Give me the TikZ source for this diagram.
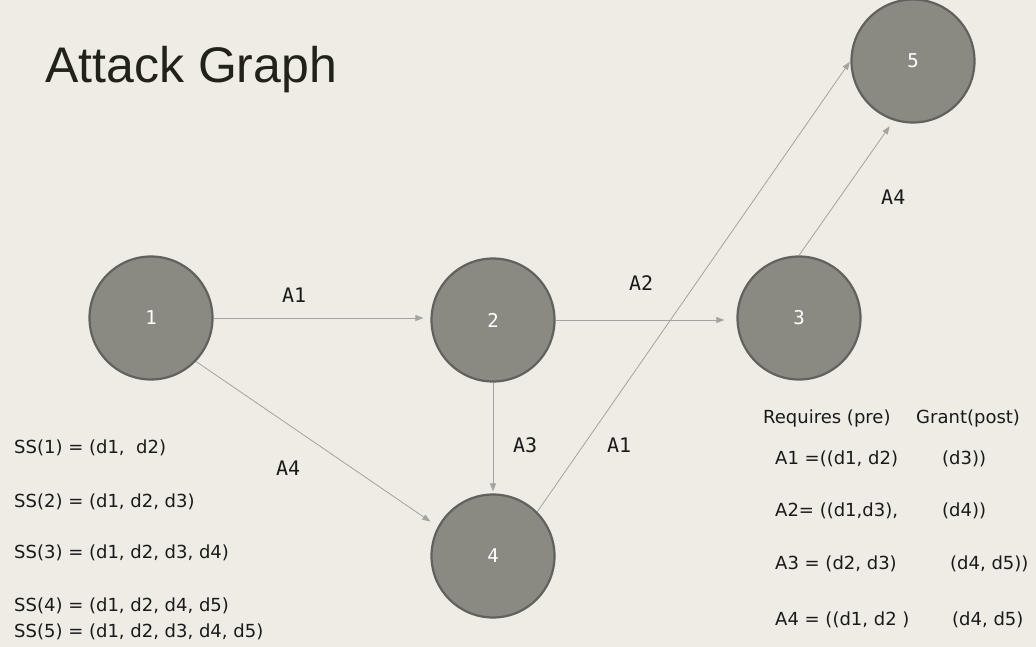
\documentclass[tikz,border=0pt]{standalone}
\usepackage{fontspec}
\setmainfont{DejaVu Sans}
\newfontfamily\titlefont{Liberation Sans}
\newfontfamily\monofont{DejaVu Sans Mono}
\usetikzlibrary{arrows.meta}
\definecolor{bgc}{HTML}{EEECE4}
\definecolor{circfill}{HTML}{8A8A83}
\definecolor{circline}{HTML}{62625C}
\definecolor{edgec}{HTML}{A4A49E}
\definecolor{txtc}{HTML}{1A1A1A}
\definecolor{titlec}{HTML}{22221A}
\tikzset{
  statenode/.style={circle, fill=circfill, draw=circline, line width=2.2pt,
    minimum size=123pt, inner sep=0pt, text=white,
    font=\monofont\fontsize{19pt}{19pt}\selectfont},
  edge/.style={draw=edgec, line width=0.8pt,
    -{Triangle[length=8pt,width=6pt]}},
  elabel/.style={anchor=base west, inner sep=0pt, text=txtc,
    font=\monofont\fontsize{20pt}{20pt}\selectfont},
  sstext/.style={anchor=base west, inner sep=0pt, text=txtc,
    font=\fontsize{18pt}{18pt}\selectfont},
}
\begin{document}
\begin{tikzpicture}[x=1pt,y=-1pt]
\fill[bgc] (0,0) rectangle (1036,647);
\useasboundingbox (0,0) rectangle (1036,647);

\node[anchor=base west, inner sep=0pt, text=titlec,
  font=\titlefont\fontsize{50pt}{50pt}\selectfont] (title) at (45,83) {Attack Graph};

\node[statenode] (n1) at (151,318) {1};
\node[statenode] (n2) at (493,320) {2};
\node[statenode] (n3) at (799,318) {3};
\node[statenode] (n4) at (493,556) {4};
\node[statenode] (n5) at (913,61) {5};

\draw[edge, shorten >=7pt] (n1.east) -- (n1.east -| n2.west);
\draw[edge, shorten >=12pt] (n2.east) -- (n2.east -| n3.west);
\draw[edge, shorten >=2pt] (n2.south) -- (n4.north);
\draw[edge, shorten >=9pt] (n1.-44) -- (n4.152);
\draw[edge, shorten >=1pt] (n4.45) -- (n5.west);
\draw[edge, shorten >=7pt] (n3.north) -- (n5.252);

\node[elabel] (l12) at (282,302) {A1};
\node[elabel] (l23) at (629,290) {A2};
\node[elabel] (l24) at (513,452) {A3};
\node[elabel] (l45) at (607,452) {A1};
\node[elabel] (l14) at (276,475) {A4};
\node[elabel] (l35) at (881,205) {A4};

\node[sstext] (ss1) at (14,453) {SS(1) = (d1,\ \ d2)};
\node[sstext] (ss2) at (14,507) {SS(2) = (d1, d2, d3)};
\node[sstext] (ss3) at (14,558) {SS(3) = (d1, d2, d3, d4)};
\node[sstext] (ss4) at (14,611.5) {SS(4) = (d1, d2, d4, d5)};
\node[sstext] (ss5) at (14,637) {SS(5) = (d1, d2, d3, d4, d5)};

\node[sstext] (req) at (763,423) {Requires (pre)};
\node[sstext] (grant) at (916,423) {Grant(post)};
\node[sstext] (r1a) at (775,464) {A1 =((d1, d2)};
\node[sstext] (r1b) at (942,464) {(d3))};
\node[sstext] (r2a) at (775,516) {A2= ((d1,d3),};
\node[sstext] (r2b) at (942,516) {(d4))};
\node[sstext] (r3a) at (775,569) {A3 = (d2, d3)};
\node[sstext] (r3b) at (950,569) {(d4, d5))};
\node[sstext] (r4a) at (775,625) {A4 = ((d1, d2 )};
\node[sstext] (r4b) at (952,625) {(d4, d5)};
\end{tikzpicture}
\end{document}
